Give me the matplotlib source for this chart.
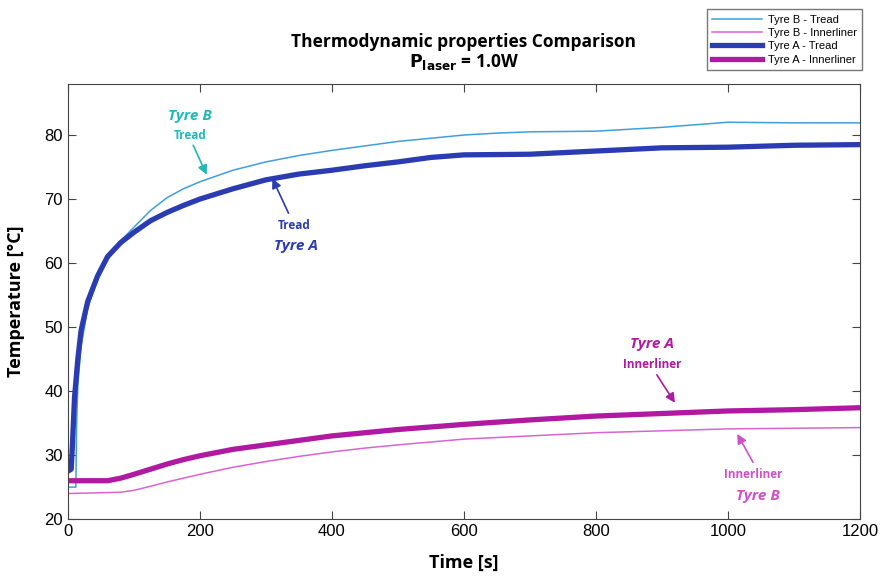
import numpy as np
import matplotlib.pyplot as plt

# DATOS
t_b_tread = [0, 12, 13, 15, 20, 30, 45, 60, 80, 100, 125, 150, 175, 200, 250, 300, 350, 400, 450, 500, 550, 600, 650, 700, 800, 900, 1000, 1100, 1200]
y_b_tread = [25, 25, 34, 41, 47, 53, 57.5, 60.5, 63.5, 65.6, 68.2, 70.2, 71.6, 72.7, 74.5, 75.8, 76.8, 77.6, 78.3, 79, 79.5, 80, 80.3, 80.5, 80.6, 81.2, 82, 81.9, 81.9]

t_a_tread = [0, 5, 7, 10, 15, 20, 30, 45, 60, 80, 100, 125, 150, 175, 200, 250, 300, 350, 400, 450, 500, 550, 600, 700, 800, 900, 1000, 1100, 1200]
y_a_tread = [27.5, 27.8, 32, 39, 45, 49.5, 54, 58, 61, 63.2, 64.8, 66.6, 67.9, 69, 70, 71.6, 73, 73.9, 74.5, 75.2, 75.8, 76.5, 76.9, 77, 77.5, 78, 78.1, 78.4, 78.5]

t_b_inner = [0, 80, 100, 120, 150, 175, 200, 250, 300, 350, 400, 450, 500, 600, 700, 800, 900, 1000, 1100, 1200]
y_b_inner = [24, 24.2, 24.5, 25, 25.8, 26.4, 27, 28.1, 29, 29.8, 30.5, 31.1, 31.6, 32.5, 33, 33.5, 33.8, 34.1, 34.2, 34.3]

t_a_inner = [0, 60, 80, 100, 125, 150, 175, 200, 250, 300, 350, 400, 450, 500, 600, 700, 800, 900, 1000, 1100, 1200]
y_a_inner = [26, 26, 26.4, 27, 27.8, 28.6, 29.3, 29.9, 30.9, 31.6, 32.3, 33, 33.5, 34, 34.8, 35.5, 36.1, 36.5, 36.9, 37.1, 37.4]

labels = ["Tyre B - Tread", "Tyre B - Innerliner", "Tyre A - Tread", "Tyre A - Innerliner"]
colors = ["#3f9fdc", "#d864d2", "#2b3bb2", "#b01aa2"]

plt.rcParams['font.family'] = ['Liberation Sans', 'DejaVu Sans']

fig = plt.figure(figsize=(8.82, 5.82), dpi=100)
ax = fig.add_axes([0.077, 0.108, 0.898, 0.748])

ax.plot(t_b_tread, y_b_tread, color=colors[0], lw=1.1, label=labels[0])
ax.plot(t_b_inner, y_b_inner, color=colors[1], lw=1.1, label=labels[1])
ax.plot(t_a_tread, y_a_tread, color=colors[2], lw=3.8, label=labels[2])
ax.plot(t_a_inner, y_a_inner, color=colors[3], lw=3.8, label=labels[3])

ax.set_xlim(0, 1200)
ax.set_ylim(20, 88)
ax.set_xticks([0, 200, 400, 600, 800, 1000, 1200])
ax.set_yticks([20, 30, 40, 50, 60, 70, 80])
ax.tick_params(direction='in', top=True, right=True, labelsize=12, length=6, color='#444444')
for s in ax.spines.values():
    s.set_color('#444444')

bold = {'family': ['Open Sans', 'DejaVu Sans'], 'weight': 'bold'}
ax.set_xlabel("Time [s]", fontdict=bold, fontsize=13, labelpad=11)
ax.set_ylabel("Temperature [°C]", fontdict=bold, fontsize=13, labelpad=14)
ax.set_title("Thermodynamic properties Comparison\n$\\mathbf{P_{laser}}$ = 1.0W",
             fontdict=bold, fontsize=12.5, pad=12, linespacing=1.05)

# ANOTACIONES
c_b = "#20b8b8"
ax.text(185, 82.9, "Tyre B", color=c_b, fontdict=bold, fontstyle='italic', fontsize=11, ha='center', va='center')
ax.text(185, 79.9, "Tread", color=c_b, fontdict=bold, fontsize=8.5, ha='center', va='center')
ax.annotate("", xy=(212, 73.4), xytext=(188, 78.8),
            arrowprops=dict(arrowstyle='-|>', color=c_b, lw=1.2, mutation_scale=14))

c_a = "#2b3bb2"
ax.text(342, 65.8, "Tread", color=c_a, fontdict=bold, fontsize=8.5, ha='center', va='center')
ax.text(345, 62.6, "Tyre A", color=c_a, fontdict=bold, fontstyle='italic', fontsize=11, ha='center', va='center')
ax.annotate("", xy=(308, 73.6), xytext=(336, 67.4),
            arrowprops=dict(arrowstyle='-|>', color=c_a, lw=1.2, mutation_scale=14))

c_m = "#b01aa2"
ax.text(885, 47.3, "Tyre A", color=c_m, fontdict=bold, fontstyle='italic', fontsize=11, ha='center', va='center')
ax.text(885, 44.1, "Innerliner", color=c_m, fontdict=bold, fontsize=8.5, ha='center', va='center')
ax.annotate("", xy=(922, 37.8), xytext=(890, 42.9),
            arrowprops=dict(arrowstyle='-|>', color=c_m, lw=1.2, mutation_scale=14))

c_p = "#d050c8"
ax.text(1039, 26.9, "Innerliner", color=c_p, fontdict=bold, fontsize=8.5, ha='center', va='center')
ax.text(1045, 23.6, "Tyre B", color=c_p, fontdict=bold, fontstyle='italic', fontsize=11, ha='center', va='center')
ax.annotate("", xy=(1012, 33.7), xytext=(1040, 28.5),
            arrowprops=dict(arrowstyle='-|>', color=c_p, lw=1.2, mutation_scale=14))

fig.legend(loc='upper right', bbox_to_anchor=(0.984, 0.994), fontsize=8, frameon=True,
           fancybox=False, edgecolor='#555555', handlelength=4.5, borderpad=0.5,
           labelspacing=0.3, handletextpad=0.5)

fig.savefig("out.png", dpi=100)
